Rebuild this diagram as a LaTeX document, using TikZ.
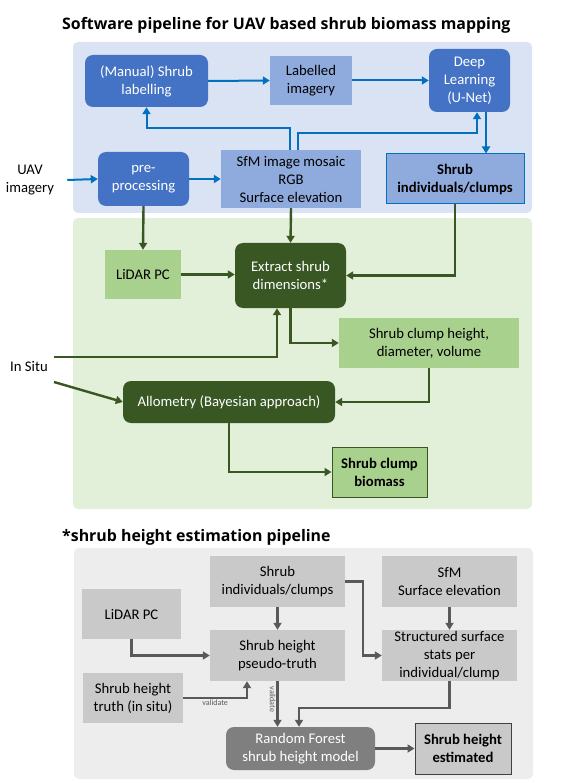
\documentclass[tikz,border=0pt]{standalone}
\usepackage{fontspec}
\setmainfont{Carlito}
\newfontfamily\headfont{Open Sans}
\usetikzlibrary{arrows.meta}

\definecolor{panelblue}{HTML}{DAE3F3}
\definecolor{darkblue}{HTML}{4472C4}
\definecolor{lightblue}{HTML}{8FAADC}
\definecolor{lineblue}{HTML}{0070C0}
\definecolor{panelgreen}{HTML}{E2F0D9}
\definecolor{lightgreen}{HTML}{A9D18E}
\definecolor{darkgreen}{HTML}{385723}
\definecolor{panelgray}{HTML}{EDEDED}
\definecolor{lightgray}{HTML}{C9C9C9}
\definecolor{darkgray}{HTML}{7F7F7F}
\definecolor{linegray}{HTML}{595959}

\tikzset{
  box/.style={rectangle, align=center, inner sep=0pt, font=\fontsize{14.7}{18}\selectfont},
  bluebox/.style={box, fill=darkblue, text=white, rounded corners=8pt},
  paleblue/.style={box, fill=lightblue},
  greenbox/.style={box, fill=darkgreen, text=white, rounded corners=8pt},
  palegreen/.style={box, fill=lightgreen},
  graybox/.style={box, fill=darkgray, text=white, rounded corners=8pt},
  palegray/.style={box, fill=lightgray},
  panel/.style={rounded corners=5pt},
  heading/.style={anchor=base west, inner sep=0pt, font=\headfont\fontsize{15.9}{19}\selectfont\bfseries},
  barrow/.style={draw=lineblue, line width=2pt, -{Triangle[length=7pt,width=8pt]}},
  garrow/.style={draw=darkgreen, line width=2.4pt, -{Triangle[length=7pt,width=8pt]}},
  grarrow/.style={draw=linegray, line width=2.4pt, -{Triangle[length=7pt,width=8pt]}},
  tiny/.style={font=\fontsize{8}{9}\selectfont, text=linegray, inner sep=1pt}
}

\begin{document}
\begin{tikzpicture}[x=1pt, y=-1pt]
\useasboundingbox[fill=white] (0,0) rectangle (562,783);

% panels
\fill[panel, panelblue] (73,42) rectangle (532,213);
\fill[panel, panelgreen] (73,218) rectangle (532,509);
\fill[panel, panelgray] (74,548) rectangle (533,779);

\node[heading] (title) at (62,30) {Software pipeline for UAV based shrub biomass mapping};
\node[heading] (subtitle) at (62,541) {*shrub height estimation pipeline};

% UAV part
\node[box, align=center] (uav) at (30,180) {UAV\\imagery};
\node[bluebox, minimum width=123, minimum height=52] (lab) at (146.5,81) {(Manual) Shrub\\labelling};
\node[paleblue, minimum width=82, minimum height=49] (labimg) at (311,80.5) {Labelled\\imagery};
\node[bluebox, minimum width=81, minimum height=63] (dl) at (469.5,80.5) {Deep\\Learning\\(U-Net)};
\node[bluebox, minimum width=91, minimum height=54] (pre) at (143.5,179) {pre-\\processing};
\node[paleblue, minimum width=140, minimum height=58] (sfm) at (291,179) {SfM image mosaic\\RGB\\Surface elevation};
\node[paleblue, draw=lineblue, line width=1pt, minimum width=138, minimum height=50, font=\fontsize{14.7}{18}\selectfont\bfseries] (indiv) at (455,179) {Shrub\\individuals/clumps};

\draw[barrow] ([xshift=13pt]uav.east) -- (pre.west);
\draw[barrow] (pre) -- (sfm);
\draw[barrow] (lab.east) -- (labimg.west);
\draw[barrow] (labimg) -- (dl);
\draw[barrow] ([xshift=-1pt]sfm.north) -- ++(0,-22) -| (lab.south);
\draw[barrow] ([xshift=7pt]sfm.north) -- ++(0,-17) -| ([xshift=7.5pt]dl.south);
\draw[barrow] ([xshift=16.5pt]dl.south) coordinate (dlout) -- (dlout |- indiv.north);

% biomass part
\node[palegreen, minimum width=76, minimum height=49] (lidar) at (143,274.5) {LiDAR PC};
\node[greenbox, minimum width=111, minimum height=65] (extract) at (290.5,275.5) {Extract shrub\\dimensions*};
\node[palegreen, minimum width=180, minimum height=50] (dims) at (429,343) {Shrub clump height,\\diameter, volume};
\node[greenbox, minimum width=212, minimum height=42] (allo) at (229,402) {Allometry (Bayesian approach)};
\node[palegreen, draw=darkgreen, line width=1pt, minimum width=95, minimum height=50, font=\fontsize{14.7}{18}\selectfont\bfseries] (biomass) at (379.5,472) {Shrub clump\\biomass};
\node[box] (insitu) at (29,366) {In Situ};
\coordinate (situa) at (54,357);
\coordinate (situb) at (54,382);

\draw[garrow] (pre.south) -- (lidar.north);
\draw[garrow] (sfm.south) -- (extract.north);
\draw[garrow] (indiv.south) |- (extract.east);
\draw[garrow] (lidar.east) -- (lidar.east -| extract.west);
\draw[garrow] (situa) -| ([xshift=-13.5pt]extract.south);
\draw[garrow] (extract.south) |- (dims.west);
\draw[garrow] (situb) -- (allo.west);
\draw[garrow] (dims.south) |- (allo.east);
\draw[garrow] (allo.south) |- (biomass.west);

% height part
\node[palegray, minimum width=135, minimum height=51] (gindiv) at (277.5,581.5) {Shrub\\individuals/clumps};
\node[palegray, minimum width=135, minimum height=51] (gsfm) at (449.5,581.5) {SfM\\Surface elevation};
\node[palegray, minimum width=99, minimum height=50] (glidar) at (131.5,614) {LiDAR PC};
\node[palegray, minimum width=135, minimum height=51] (pseudo) at (277.5,655.5) {Shrub height\\pseudo-truth};
\node[palegray, minimum width=135, minimum height=51] (stats) at (449.5,655.5) {Structured surface\\stats per\\individual/clump};
\node[palegray, minimum width=100, minimum height=50] (truth) at (133,698) {Shrub height\\truth (in situ)};
\node[graybox, minimum width=149, minimum height=43] (rf) at (300.5,748.5) {Random Forest\\shrub height model};
\node[palegray, draw=black!75, line width=1pt, minimum width=96, minimum height=51, font=\fontsize{14.7}{18}\selectfont\bfseries] (est) at (463,748.5) {Shrub height\\estimated};

\draw[grarrow] (gindiv) -- (pseudo);
\draw[grarrow] (gsfm) -- (stats);
\draw[grarrow] (gindiv.east) -- ++(18,0) |- (stats.west);
\draw[grarrow] (glidar.south) |- (pseudo.west);
\draw[grarrow] (truth.east) -| node[pos=0.25, below, tiny] {validate} ([xshift=-30.5pt]pseudo.south);
\draw[grarrow] (pseudo.south) -- node[pos=0.4, rotate=-90, anchor=north, tiny] {validate} (pseudo.south |- rf.north);
\draw[grarrow] (stats.south) -- ++(0,27) -| ([xshift=-1.5pt]rf.north);
\draw[grarrow] (rf) -- (est);
\end{tikzpicture}
\end{document}
